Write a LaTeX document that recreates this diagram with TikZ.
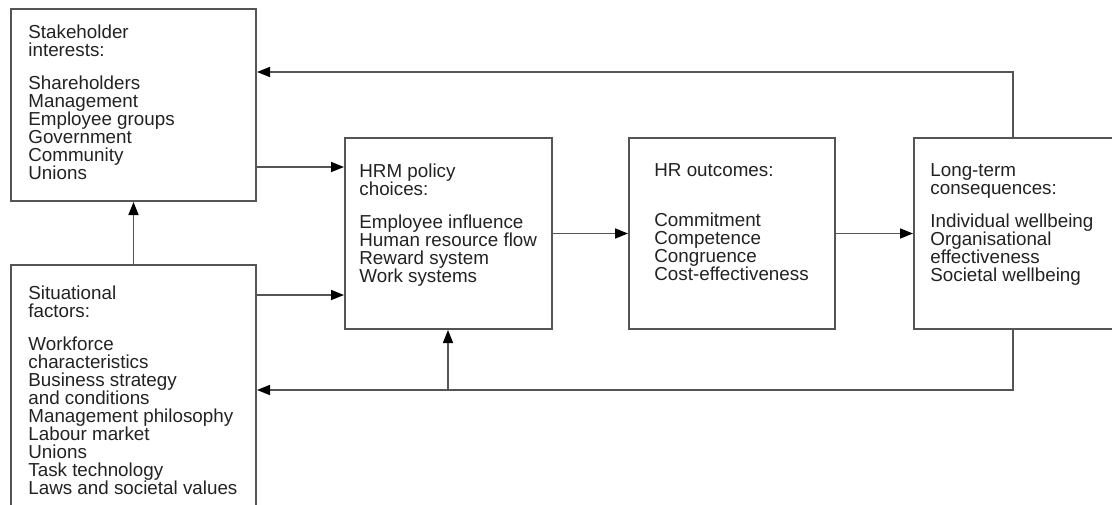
\documentclass[tikz,border=0pt]{standalone}
\usepackage{fontspec}
\setmainfont{Liberation Sans}
\usetikzlibrary{arrows.meta}
\definecolor{linegray}{HTML}{555555}
\definecolor{textgray}{HTML}{222222}

\begin{document}
\begin{tikzpicture}[
    x=0.5pt, y=0.5pt,
    box/.style = {draw=linegray, line width=1pt, inner sep=0pt, anchor=north west},
    boxtext/.style = {anchor=north west, inner sep=0pt, align=left, text=textgray,
      font=\fontsize{9.4}{9}\selectfont},
    flow/.style = {draw=linegray, line width=0.8pt,
      -{Triangle[length=6.5pt, width=5pt, color=black]}},
  ]
    %%+++++++++++++++++++++++++
    % Variables
    % Extra space under the headings
    \pgfmathsetmacro{\gap}{7.5}
    \pgfmathsetmacro{\gapHR}{16}
    % Frame of the picture
    \useasboundingbox (0,0) rectangle (1112,504);
    \clip (0,0) rectangle (1112,504);
    %%+++++++++++++++++++++++++
    % Boxes
    \node[box, minimum width=122.5pt, minimum height=96pt] (stake) at (10,496) {};
    \node[box, minimum width=122.5pt, minimum height=130pt] (sit) at (10,240) {};
    \node[box, minimum width=103.5pt, minimum height=95.5pt] (hrm) at (344,367) {};
    \node[box, minimum width=103pt, minimum height=95.5pt] (out) at (628,367) {};
    \node[box, minimum width=105pt, minimum height=95.5pt] (cons) at (913,367) {};
    % Texts
    \node[boxtext] (stakeTxt) at (28,480) {Stakeholder\\interests:\\[\gap pt]%
      Shareholders\\Management\\Employee groups\\Government\\Community\\Unions};
    \node[boxtext] (sitTxt) at (28,219) {Situational\\factors:\\[\gap pt]%
      Workforce\\characteristics\\Business strategy\\and conditions\\%
      Management philosophy\\Labour market\\Unions\\Task technology\\%
      Laws and societal values};
    \node[boxtext] (hrmTxt) at (359,341) {HRM policy\\choices:\\[\gap pt]%
      Employee influence\\Human resource flow\\Reward system\\Work systems};
    \node[boxtext] (outTxt) at (654,341) {HR outcomes:\\[\gapHR pt]%
      Commitment\\Competence\\Congruence\\Cost-effectiveness};
    \node[boxtext] (consTxt) at (930,341) {Long-term\\consequences:\\[\gap pt]%
      Individual wellbeing\\Organisational\\effectiveness\\Societal wellbeing};
    %%+++++++++++++++++++++++++
    % Arrows
    \coordinate (hA) at ([yshift=-15pt]hrm.north west);
    \coordinate (hB) at ([yshift=-79pt]hrm.north west);
    \draw[flow] (stake.east |- hA) -- (hA);
    \draw[flow] (sit.east |- hB) -- (hB);
    \draw[flow] (sit) -- (stake);
    \draw[flow] (hrm) -- (out);
    \draw[flow] (out) -- (cons);
    % Feedback loops
    \coordinate (cTop) at ([xshift=50pt]cons.north west);
    \coordinate (cBot) at ([xshift=50pt]cons.south west);
    \coordinate (sTop) at ([yshift=-32pt]stake.north east);
    \coordinate (sBot) at ([yshift=-63pt]sit.north east);
    \coordinate (hUp) at ([xshift=52pt]hrm.south west);
    \draw[flow] (cTop) |- (sTop);
    \draw[flow] (cBot) |- (sBot);
    \draw[flow] (hUp |- sBot) -- (hUp);
\end{tikzpicture}
\end{document}
